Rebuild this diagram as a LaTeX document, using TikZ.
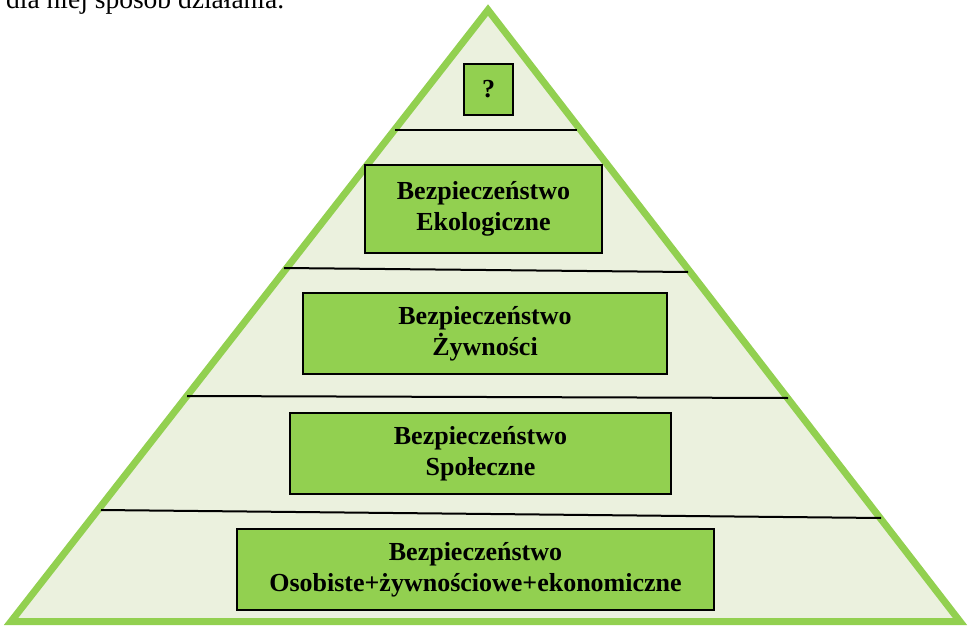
\documentclass[tikz,border=0pt]{standalone}
\usepackage{fontspec}
\setmainfont{Liberation Serif}
\definecolor{pgreen}{HTML}{92D050}
\definecolor{pfill}{HTML}{EBF1DE}
\begin{document}
\begin{tikzpicture}[x=1pt,y=-1pt,
  levelbox/.style={draw=black,line width=2pt,fill=pgreen,inner sep=0pt,align=center,
    font=\fontsize{26}{31}\selectfont\bfseries},
  divider/.style={draw=black,line width=2pt}]
\useasboundingbox (0,0) rectangle (968,628);
\clip (0,0) rectangle (968,628);
\fill[white] (0,0) rectangle (968,628);
% caption text cut off at top
\node[anchor=base west,inner sep=0pt,font=\fontsize{27.5}{32}\selectfont] (cap) at (6,9) {dla niej sposób działania.};
% pyramid
\coordinate (apex) at (488,10);
\coordinate (bl) at (11,621.5);
\coordinate (br) at (960,621.5);
\draw[pgreen,fill=pfill,line width=7pt,line join=miter] (apex) -- (br) -- (bl) -- cycle;
% dividers
\coordinate (l1a) at (395,130); \coordinate (l1b) at (577,130);
\coordinate (l2a) at (284,268); \coordinate (l2b) at (688,272);
\coordinate (l3a) at (187,396); \coordinate (l3b) at (788,398);
\coordinate (l4a) at (101,510); \coordinate (l4b) at (881,518);
\draw[divider] (l1a) -- (l1b);
\draw[divider] (l2a) -- (l2b);
\draw[divider] (l3a) -- (l3b);
\draw[divider] (l4a) -- (l4b);
% boxes
\node[levelbox,minimum width=49pt,minimum height=51pt] (q) at (488.5,89.5) {?};
\node[levelbox,minimum width=237pt,minimum height=88pt] (eko) at (483.5,209) {Bezpieczeństwo\\Ekologiczne};
\node[levelbox,minimum width=364pt,minimum height=81pt] (zyw) at (485,333.5) {Bezpieczeństwo\\Żywności};
\node[levelbox,minimum width=381pt,minimum height=81pt] (spo) at (480.5,453.5) {Bezpieczeństwo\\Społeczne};
\node[levelbox,minimum width=477pt,minimum height=81pt] (oso) at (475.5,569.5) {Bezpieczeństwo\\Osobiste+żywnościowe+ekonomiczne};
\end{tikzpicture}
\end{document}
